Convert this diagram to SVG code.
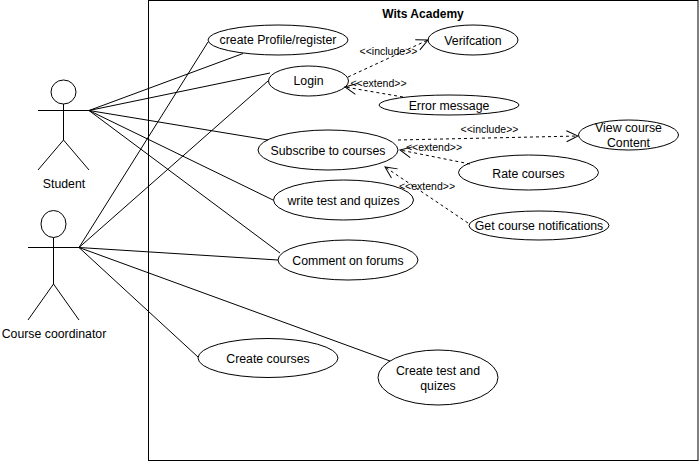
<svg xmlns="http://www.w3.org/2000/svg" width="699" height="461" viewBox="0 0 699 461">
<defs>
<marker id="open" viewBox="0 0 14 14" refX="13" refY="7" markerWidth="14" markerHeight="14" markerUnits="userSpaceOnUse" orient="auto"><path d="M1.500 1.500L13 7L1.500 12.500" fill="none" stroke="#000" stroke-width="1"/></marker>
</defs>
<style>
text{font-family:"Liberation Sans",Arial,sans-serif;fill:#000;text-anchor:middle}
.n{font-size:12.300px}
.l{font-size:10.500px}
.u{fill:#fff;stroke:#000;stroke-width:1}
.a{fill:none;stroke:#000;stroke-width:1}
.d{fill:none;stroke:#000;stroke-width:1;stroke-dasharray:3 3;marker-end:url(#open)}
</style>
<rect id="boundary" x="148.500" y="0.500" width="549.500" height="460" fill="#fff" stroke="#000"/>
<text x="423" y="18" font-size="12" font-weight="bold">Wits Academy</text>
<g id="student">
<ellipse class="a" cx="63.500" cy="92" rx="12.500" ry="12"/>
<path class="a" d="M63.500 104V140M38 110.500H89M38 170L63.500 140L89 170"/>
<text class="n" x="64" y="188">Student</text>
</g>
<g id="coordinator">
<ellipse class="a" cx="53.500" cy="224" rx="12.500" ry="13.500"/>
<path class="a" d="M53.500 237.500V284M28 247.500H79M28 320L53.500 284L79 320"/>
<text class="n" x="54" y="338">Course coordinator</text>
</g>
<g id="uc-register"><ellipse class="u" cx="278" cy="40" rx="70" ry="15"/><text class="n" x="278" y="44">create Profile/register</text></g>
<g id="uc-login"><ellipse class="u" cx="308.500" cy="81" rx="40" ry="15"/><text class="n" x="308.500" y="85">Login</text></g>
<g id="uc-verification"><ellipse class="u" cx="473" cy="40" rx="45" ry="15"/><text class="n" x="473" y="45">Verifcation</text></g>
<g id="uc-error"><ellipse class="u" cx="449" cy="105" rx="70" ry="10"/><text class="n" x="449" y="110">Error message</text></g>
<g id="uc-subscribe"><ellipse class="u" cx="328" cy="150" rx="70" ry="20"/><text class="n" x="328" y="155">Subscribe to courses</text></g>
<g id="uc-view"><ellipse class="u" cx="628.500" cy="135" rx="50" ry="15"/><text class="n" x="628.500" y="132">View course</text><text class="n" x="628.500" y="147">Content</text></g>
<g id="uc-rate"><ellipse class="u" cx="528.500" cy="172.500" rx="70" ry="17.500"/><text class="n" x="528.500" y="178">Rate courses</text></g>
<g id="uc-test"><ellipse class="u" cx="343.500" cy="200" rx="70" ry="20"/><text class="n" x="343.500" y="205">write test and quizes</text></g>
<g id="uc-notify"><ellipse class="u" cx="539" cy="225.500" rx="70" ry="14.500"/><text class="n" x="539" y="230">Get course notifications</text></g>
<g id="uc-forums"><ellipse class="u" cx="348" cy="260" rx="70" ry="20"/><text class="n" x="348" y="265">Comment on forums</text></g>
<g id="uc-create"><ellipse class="u" cx="268" cy="358" rx="70" ry="19.500"/><text class="n" x="268" y="363">Create courses</text></g>
<g id="uc-createtest"><ellipse class="u" cx="438" cy="377.500" rx="60" ry="27.500"/><text class="n" x="438" y="375">Create test and</text><text class="n" x="438" y="390">quizes</text></g>
<g id="connectors">
<path class="a" d="M89 110.500L243 53.500"/>
<path class="a" d="M89 110.500L270 73"/>
<path class="a" d="M89 110.500L268 140"/>
<path class="a" d="M89 110.500L273 200"/>
<path class="a" d="M89 110.500L280 253"/>
<path class="a" d="M79 247.500L208 42"/>
<path class="a" d="M79 247.500L268 81"/>
<path class="a" d="M79 247.500L278 260"/>
<path class="a" d="M79 247.500L198 357"/>
<path class="a" d="M79 247.500L390 361"/>
<path class="d" d="M348 77L428 40"/>
<path class="d" d="M403 97L345 87"/>
<path class="d" d="M398 140L578 136"/>
<path class="d" d="M470 164L400 150"/>
<path class="d" d="M468 223L385 167"/>
<text class="l" x="388.500" y="55">&lt;&lt;include&gt;&gt;</text>
<text class="l" x="378.500" y="87">&lt;&lt;extend&gt;&gt;</text>
<text class="l" x="489.500" y="133">&lt;&lt;include&gt;&gt;</text>
<text class="l" x="434" y="151">&lt;&lt;extend&gt;&gt;</text>
<text class="l" x="427" y="190">&lt;&lt;extend&gt;&gt;</text>
</g>
</svg>
